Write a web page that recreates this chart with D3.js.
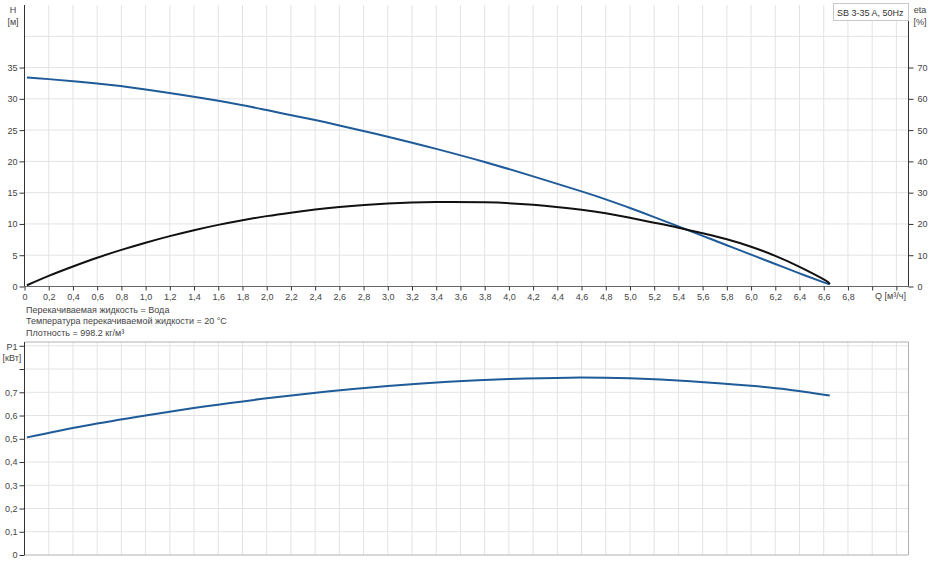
<!DOCTYPE html>
<html>
<head>
<meta charset="utf-8">
<script src="https://cdn.jsdelivr.net/npm/d3@7"></script>
<style>
  body { margin: 0; background: #fff; }
  text { font-family: "Liberation Sans", Arial, sans-serif; }
</style>
</head>
<body>
<script>
// head curve H [m]
let qH   = [0.02, 0.2, 0.6, 1.0, 1.6, 2.0, 2.4, 2.6, 3.0, 3.4, 3.8, 4.2, 4.6, 4.8, 5.0, 5.2, 5.4, 5.6, 5.8, 6.0, 6.2, 6.4, 6.6, 6.65]
let hVal = [33.4, 33.15, 32.45, 31.5, 29.7, 28.2, 26.6, 25.75, 23.95, 22.0, 19.9, 17.6, 15.2, 13.92, 12.55, 11.1, 9.6, 8.1, 6.6, 5.1, 3.6, 2.1, 0.65, 0.35]

// efficiency eta [%]
let qEta   = [0.02, 0.2, 0.4, 0.6, 0.8, 1.0, 1.2, 1.4, 1.6, 1.8, 2.0, 2.2, 2.4, 2.6, 3.0, 3.4, 3.8, 4.2, 4.6, 4.8, 5.0, 5.2, 5.4, 5.6, 5.8, 6.0, 6.2, 6.4, 6.6, 6.65]
let etaVal = [0.4, 3.4, 6.4, 9.2, 11.7, 14.0, 16.1, 18.0, 19.7, 21.2, 22.5, 23.6, 24.6, 25.4, 26.5, 27.0, 26.9, 26.15, 24.55, 23.4, 21.95, 20.4, 18.8, 17.0, 15.1, 12.7, 9.8, 6.3, 2.3, 0.8]

// power P1 [kW]
let qP   = [0.02, 0.5, 1.0, 1.5, 2.0, 2.5, 3.0, 3.5, 4.0, 4.5, 5.0, 5.5, 6.0, 6.3, 6.65]
let pVal = [0.506, 0.556, 0.600, 0.640, 0.674, 0.703, 0.727, 0.745, 0.757, 0.763, 0.760, 0.748, 0.728, 0.712, 0.686]

let qTicks = d3.range(0, 7.21, 0.2).map(d => +d.toFixed(1))
let hTicks = [0, 5, 10, 15, 20, 25, 30, 35]
let etaTicks = [0, 10, 20, 30, 40, 50, 60, 70]
let pTicks = [0, 0.1, 0.2, 0.3, 0.4, 0.5, 0.6, 0.7]

let notes = [
  'Перекачиваемая жидкость = Вода',
  'Температура перекачиваемой жидкости = 20 °C',
  'Плотность = 998.2 кг/м³'
]

width = 937
height = 575
let fmt = d => d === 0 ? '0' : d3.format('.1f')(d).replace('.', ',')
let gridColor = '#e3e3e3'
let textColor = '#444'
let blue = '#1f5b98'

let svg = d3.select('body')
.append('svg')
.attr('width', width)
.attr('height', height)

let x = d3.scaleLinear()
.domain([0, 7.3])
.range([24.5, 908.5])

// ---- top chart ----
let yH = d3.scaleLinear().domain([0, 45]).range([286.5, 5])
let yEta = d3.scaleLinear().domain([0, 90]).range([286.5, 5])

svg.append('g')
.selectAll('line')
.data([5, 10, 15, 20, 25, 30, 35, 40])
.join('line')
  .attr('x1', x(0)).attr('x2', x(7.3))
  .attr('y1', d => yH(d)).attr('y2', d => yH(d))
  .attr('stroke', gridColor)

svg.append('g')
.selectAll('line')
.data(qTicks.filter(d => d > 0))
.join('line')
  .attr('x1', d => x(d)).attr('x2', d => x(d))
  .attr('y1', yH(0)).attr('y2', yH(45))
  .attr('stroke', gridColor)

let line = (xs, ys, sx, sy) => d3.line().curve(d3.curveNatural)
  .x((d, i) => sx(xs[i])).y(d => sy(d))(ys)

svg.append('path')
.attr('d', line(qH, hVal, x, yH))
.attr('fill', 'none').attr('stroke', blue).attr('stroke-width', 2)

svg.append('path')
.attr('d', line(qEta, etaVal, x, yEta))
.attr('fill', 'none').attr('stroke', '#111').attr('stroke-width', 2)

// axes
let leftAxis = svg.append('g')
.attr('transform', `translate(${x(0)},0)`)
.call(d3.axisLeft(yH).tickValues(hTicks).tickSize(5).tickPadding(2).tickFormat(d => d))
leftAxis.select('.domain').attr('d', `M0,${yH(45)}V${yH(0)}`).attr('stroke', '#333')

let rightAxis = svg.append('g')
.attr('transform', `translate(${x(7.3)},0)`)
.call(d3.axisRight(yEta).tickValues(etaTicks).tickSize(5).tickPadding(4).tickFormat(d => d))
rightAxis.select('.domain').attr('d', `M0,${yEta(90)}V${yEta(0)}`).attr('stroke', '#333')

let bottomAxis = svg.append('g')
.attr('transform', `translate(0,${yH(0)})`)
.call(d3.axisBottom(x).tickValues(qTicks).tickSize(4).tickPadding(3).tickFormat(d => d > 6.9 ? '' : fmt(d)))
bottomAxis.select('.domain').attr('d', `M${x(0)},0H${x(7.3)}`).attr('stroke', '#666')

svg.selectAll('.tick text').attr('fill', textColor).style('font-size', '9px').style('font-family', '"Liberation Sans", Arial, sans-serif')
svg.selectAll('.tick line').attr('stroke', '#333')

svg.append('text').attr('x', 875).attr('y', 299).attr('font-size', 9).attr('fill', textColor).text('Q [м³/ч]')

svg.append('text').attr('x', 13).attr('y', 13).attr('text-anchor', 'middle').attr('font-size', 9).attr('fill', textColor).text('H')
svg.append('text').attr('x', 13).attr('y', 25).attr('text-anchor', 'middle').attr('font-size', 9).attr('fill', textColor).text('[м]')
svg.append('text').attr('x', 920).attr('y', 13).attr('text-anchor', 'middle').attr('font-size', 9).attr('fill', textColor).text('eta')
svg.append('text').attr('x', 920).attr('y', 25).attr('text-anchor', 'middle').attr('font-size', 9).attr('fill', textColor).text('[%]')

// legend box
svg.append('rect').attr('x', 833.5).attr('y', 3.5).attr('width', 75).attr('height', 17)
.attr('fill', '#fff').attr('stroke', '#c8c8c8')
svg.append('text').attr('x', 837).attr('y', 15.5).attr('font-size', 9).attr('fill', '#333').text('SB 3-35 A, 50Hz')

// notes
svg.append('g')
.selectAll('text')
.data(notes)
.join('text')
  .attr('x', 26).attr('y', (d, i) => 312.5 + i * 11.5)
  .attr('font-size', 9).attr('fill', textColor)
  .text(d => d)

// ---- bottom chart ----
let yP = d3.scaleLinear().domain([0, 0.9]).range([555, 345.8])
let pTop = 342

svg.append('g')
.selectAll('line')
.data([0.1, 0.2, 0.3, 0.4, 0.5, 0.6, 0.7, 0.8, 0.9])
.join('line')
  .attr('x1', x(0)).attr('x2', x(7.3))
  .attr('y1', d => yP(d)).attr('y2', d => yP(d))
  .attr('stroke', gridColor)

svg.append('g')
.selectAll('line')
.data(qTicks.filter(d => d > 0))
.join('line')
  .attr('x1', d => x(d)).attr('x2', d => x(d))
  .attr('y1', yP(0)).attr('y2', pTop)
  .attr('stroke', gridColor)

svg.append('path')
.attr('d', `M${x(0)},${pTop}H${x(7.3)}V${yP(0)}H${x(0)}`)
.attr('fill', 'none').attr('stroke', '#b0b0b0')

svg.append('path')
.attr('d', line(qP, pVal, x, yP))
.attr('fill', 'none').attr('stroke', blue).attr('stroke-width', 2)

let pAxis = svg.append('g')
.attr('transform', `translate(${x(0)},0)`)
.call(d3.axisLeft(yP).tickValues([0, 0.1, 0.2, 0.3, 0.4, 0.5, 0.6, 0.7, 0.8, 0.9]).tickSize(5).tickPadding(2)
  .tickFormat(d => pTicks.includes(d) ? fmt(d) : ''))
pAxis.select('.domain').attr('d', `M0,${pTop}V${yP(0)}`).attr('stroke', '#333')
pAxis.selectAll('.tick text').attr('fill', textColor).style('font-size', '9px')
pAxis.selectAll('.tick line').attr('stroke', '#333')

svg.append('text').attr('x', 12).attr('y', 350).attr('text-anchor', 'middle').attr('font-size', 9).attr('fill', textColor).text('P1')
svg.append('text').attr('x', 12).attr('y', 361).attr('text-anchor', 'middle').attr('font-size', 9).attr('fill', textColor).text('[кВт]')
</script>
</body>
</html>
